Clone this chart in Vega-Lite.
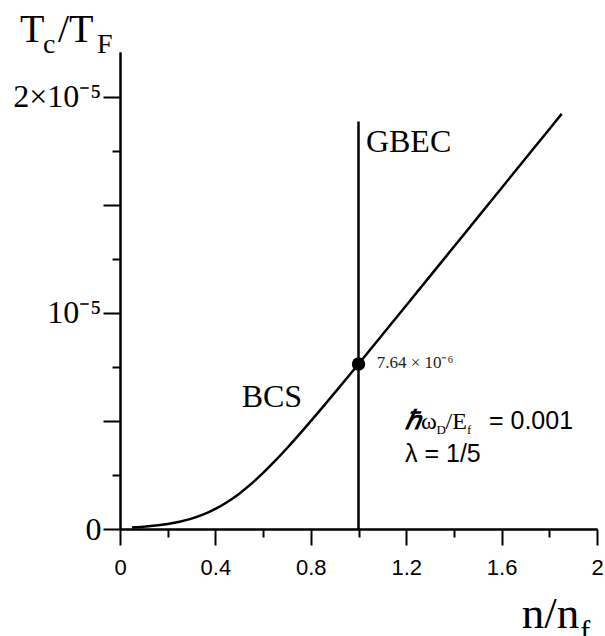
{
  "$schema": "https://vega.github.io/schema/vega-lite/v6.json",
  "width": 477,
  "height": 477,
  "autosize": "none",
  "padding": {"left": 120, "top": 52, "right": 8, "bottom": 107},
  "background": "white",
  "config": {
    "view": {"stroke": null},
    "axis": {"grid": false, "domainColor": "black", "tickColor": "black", "domainWidth": 2, "tickWidth": 2, "labelColor": "black", "labelOverlap": false, "labelFlush": false, "labelBound": false, "title": null}
  },
  "resolve": {"axis": {"x": "independent", "y": "independent"}},
  "layer": [
    {
      "data": {"values": [
        {"x": 0.05, "y": 0.0074}, {"x": 0.1, "y": 0.0109}, {"x": 0.15, "y": 0.0159}, {"x": 0.2, "y": 0.0233},
        {"x": 0.25, "y": 0.0336}, {"x": 0.3, "y": 0.048}, {"x": 0.35, "y": 0.0675}, {"x": 0.4, "y": 0.0929},
        {"x": 0.45, "y": 0.1248}, {"x": 0.5, "y": 0.1636}, {"x": 0.55, "y": 0.2087}, {"x": 0.6, "y": 0.2595},
        {"x": 0.65, "y": 0.3149}, {"x": 0.7, "y": 0.3739}, {"x": 0.75, "y": 0.4356}, {"x": 0.8, "y": 0.4992},
        {"x": 0.85, "y": 0.5642}, {"x": 0.9, "y": 0.6303}, {"x": 0.95, "y": 0.6969}, {"x": 1.0, "y": 0.764},
        {"x": 1.1, "y": 0.8991}, {"x": 1.2, "y": 1.0347}, {"x": 1.3, "y": 1.1705}, {"x": 1.4, "y": 1.3065},
        {"x": 1.5, "y": 1.4425}, {"x": 1.6, "y": 1.5786}, {"x": 1.7, "y": 1.7147}, {"x": 1.8, "y": 1.8508},
        {"x": 1.852, "y": 1.9216}
      ]},
      "mark": {"type": "line", "color": "black", "strokeWidth": 2.5, "interpolate": "monotone"},
      "encoding": {
        "x": {"field": "x", "type": "quantitative", "scale": {"domain": [0, 2], "nice": false, "zero": false},
          "axis": {"orient": "bottom", "values": [0.2, 0.6, 1.0, 1.4, 1.8], "tickSize": 8, "labels": false}},
        "y": {"field": "y", "type": "quantitative", "scale": {"domain": [0, 2.208], "nice": false, "zero": false},
          "axis": {"orient": "left", "values": [0.25, 0.75, 1.25, 1.75], "tickSize": 8, "labels": false}}
      }
    },
    {
      "data": {"values": [{"x": 1, "y": 0, "y2": 1.886}]},
      "mark": {"type": "rule", "color": "black", "strokeWidth": 2.5},
      "encoding": {
        "x": {"field": "x", "type": "quantitative",
          "axis": {"orient": "bottom", "values": [0, 0.4, 0.8, 1.2, 1.6, 2], "format": "~g", "tickSize": 16, "labelFont": "Liberation Sans", "labelFontSize": 22, "labelPadding": 12}},
        "y": {"field": "y", "type": "quantitative",
          "axis": {"orient": "left", "values": [0, 0.5, 1, 1.5, 2], "tickSize": 17, "labelFont": "Liberation Serif", "labelFontSize": 32, "labelPadding": 2,
            "labelExpr": "datum.value == 0 ? '0' : datum.value == 1 ? '10⁻⁵' : datum.value == 2 ? '2×10⁻⁵' : ''"}},
        "y2": {"field": "y2"}
      }
    },
    {
      "data": {"values": [{"x": 1, "y": 0.764}]},
      "mark": {"type": "point", "filled": true, "color": "black", "opacity": 1, "size": 180},
      "encoding": {
        "x": {"field": "x", "type": "quantitative", "axis": null},
        "y": {"field": "y", "type": "quantitative", "axis": null}
      }
    },
    {
      "data": {"values": [{"label": "GBEC", "x": 1.031, "y": 1.745}, {"label": "BCS", "x": 0.51, "y": 0.566}]},
      "mark": {"type": "text", "font": "Liberation Serif", "fontSize": 32, "align": "left", "baseline": "alphabetic", "color": "black"},
      "encoding": {
        "x": {"field": "x", "type": "quantitative", "axis": null},
        "y": {"field": "y", "type": "quantitative", "axis": null},
        "text": {"field": "label"}
      }
    },
    {
      "data": {"values": [{"label": "7.64 × 10⁻⁶", "x": 1.076, "y": 0.744}]},
      "mark": {"type": "text", "font": "Liberation Serif", "fontSize": 17, "align": "left", "baseline": "alphabetic", "color": "#222222"},
      "encoding": {
        "x": {"field": "x", "type": "quantitative", "axis": null},
        "y": {"field": "y", "type": "quantitative", "axis": null},
        "text": {"field": "label"}
      }
    },
    {
      "data": {"values": [{"label": "T", "x": -0.419, "y": 2.2546}, {"label": "/T", "x": -0.26, "y": 2.2546}]},
      "mark": {"type": "text", "font": "Liberation Serif", "fontSize": 40, "align": "left", "baseline": "alphabetic", "color": "black"},
      "encoding": {
        "x": {"field": "x", "type": "quantitative", "axis": null},
        "y": {"field": "y", "type": "quantitative", "axis": null},
        "text": {"field": "label"}
      }
    },
    {
      "data": {"values": [{"label": "c", "x": -0.323, "y": 2.2037}, {"label": "F", "x": -0.096, "y": 2.2037}]},
      "mark": {"type": "text", "font": "Liberation Serif", "fontSize": 28, "align": "left", "baseline": "alphabetic", "color": "black"},
      "encoding": {
        "x": {"field": "x", "type": "quantitative", "axis": null},
        "y": {"field": "y", "type": "quantitative", "axis": null},
        "text": {"field": "label"}
      }
    },
    {
      "data": {"values": [{"label": "n/n", "x": 1.684, "y": -0.457}]},
      "mark": {"type": "text", "font": "Liberation Serif", "fontSize": 45, "align": "left", "baseline": "alphabetic", "color": "black"},
      "encoding": {
        "x": {"field": "x", "type": "quantitative", "axis": null},
        "y": {"field": "y", "type": "quantitative", "axis": null},
        "text": {"field": "label"}
      }
    },
    {
      "data": {"values": [{"label": "f", "x": 1.93, "y": -0.52}]},
      "mark": {"type": "text", "font": "Liberation Serif", "fontSize": 30, "align": "left", "baseline": "alphabetic", "color": "black"},
      "encoding": {
        "x": {"field": "x", "type": "quantitative", "axis": null},
        "y": {"field": "y", "type": "quantitative", "axis": null},
        "text": {"field": "label"}
      }
    },
    {
      "data": {"values": [{"label": "ℏ", "x": 1.195, "y": 0.463}]},
      "mark": {"type": "text", "font": "Liberation Serif", "fontSize": 26, "fontStyle": "italic", "fontWeight": "bold", "align": "left", "baseline": "alphabetic", "color": "black"},
      "encoding": {
        "x": {"field": "x", "type": "quantitative", "axis": null},
        "y": {"field": "y", "type": "quantitative", "axis": null},
        "text": {"field": "label"}
      }
    },
    {
      "data": {"values": [{"label": "ω", "x": 1.262, "y": 0.463}, {"label": "/E", "x": 1.365, "y": 0.463}]},
      "mark": {"type": "text", "font": "Liberation Serif", "fontSize": 24, "align": "left", "baseline": "alphabetic", "color": "black"},
      "encoding": {
        "x": {"field": "x", "type": "quantitative", "axis": null},
        "y": {"field": "y", "type": "quantitative", "axis": null},
        "text": {"field": "label"}
      }
    },
    {
      "data": {"values": [{"label": "D", "x": 1.327, "y": 0.44}, {"label": "f", "x": 1.455, "y": 0.44}]},
      "mark": {"type": "text", "font": "Liberation Serif", "fontSize": 13, "align": "left", "baseline": "alphabetic", "color": "black"},
      "encoding": {
        "x": {"field": "x", "type": "quantitative", "axis": null},
        "y": {"field": "y", "type": "quantitative", "axis": null},
        "text": {"field": "label"}
      }
    },
    {
      "data": {"values": [{"label": "= 0.001", "x": 1.547, "y": 0.463}, {"label": "λ = 1/5", "x": 1.195, "y": 0.31}]},
      "mark": {"type": "text", "font": "Liberation Sans", "fontSize": 25, "align": "left", "baseline": "alphabetic", "color": "black"},
      "encoding": {
        "x": {"field": "x", "type": "quantitative", "axis": null},
        "y": {"field": "y", "type": "quantitative", "axis": null},
        "text": {"field": "label"}
      }
    }
  ]
}
